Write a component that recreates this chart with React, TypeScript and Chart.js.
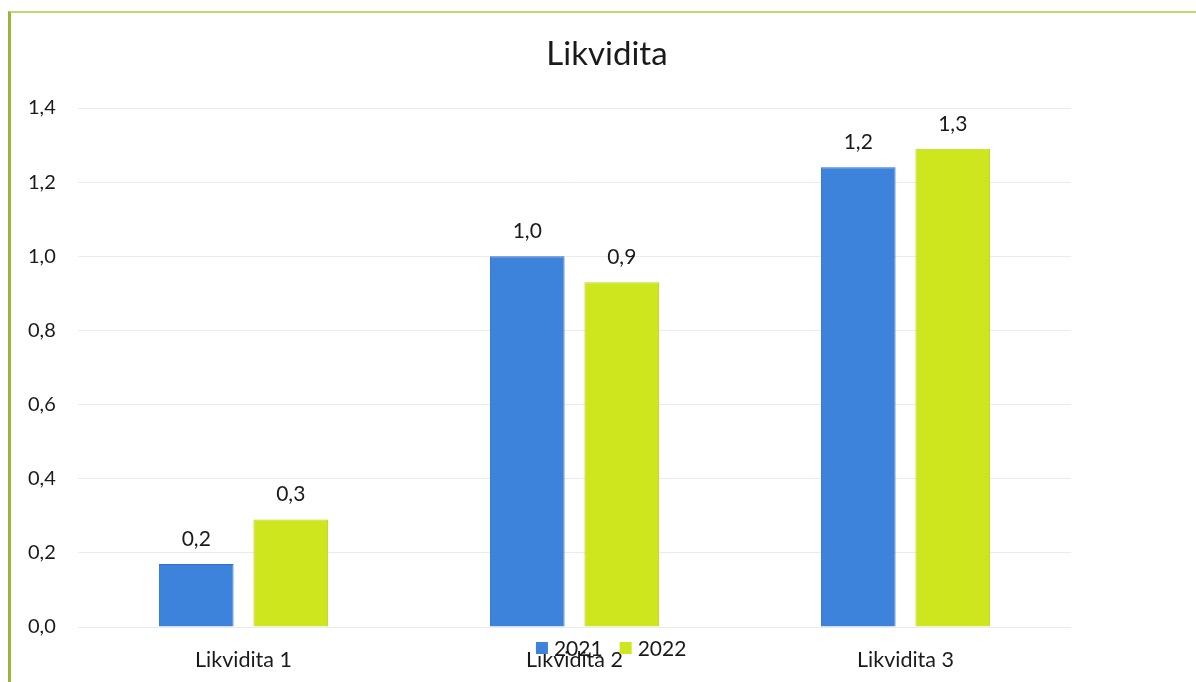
import React, { useEffect, useRef } from "react";
import { Chart, registerables } from "chart.js";

Chart.register(...registerables);

const categories = ["Likvidita 1", "Likvidita 2", "Likvidita 3"];
const seriesNames = ["2021", "2022"];
const values2021 = [0.17, 1.0, 1.24];
const values2022 = [0.29, 0.93, 1.29];
const seriesColors = ["#3d83dc", "#cde61e"];
const seriesBorders = ["#2e6fc6", "#bdd618"];
const titleText = "Likvidita";

const FONT = "Lato, 'Open Sans', sans-serif";

const fmt = (v: number, d: number) => v.toFixed(d).replace(".", ",");

const titlePlugin = {
  id: "customTitle",
  afterDraw(chart: any) {
    const ctx = chart.ctx;
    ctx.save();
    ctx.font = `33px ${FONT}`;
    ctx.fillStyle = "#1a1a1a";
    ctx.textAlign = "center";
    ctx.textBaseline = "alphabetic";
    ctx.fillText(titleText, chart.width * 0.5075, 65);
    ctx.restore();
  },
};

const dataLabelPlugin = {
  id: "dataLabels",
  afterDatasetsDraw(chart: any) {
    const ctx = chart.ctx;
    ctx.save();
    ctx.font = `21px ${FONT}`;
    ctx.fillStyle = "#1a1a1a";
    ctx.textAlign = "center";
    ctx.textBaseline = "middle";
    chart.data.datasets.forEach((ds: any, i: number) => {
      const meta = chart.getDatasetMeta(i);
      meta.data.forEach((bar: any, j: number) => {
        ctx.fillText(fmt(ds.data[j], 1), bar.x, bar.y - 25);
      });
    });
    ctx.restore();
  },
};

const legendPlugin = {
  id: "overlapLegend",
  afterDraw(chart: any) {
    const ctx = chart.ctx;
    ctx.save();
    ctx.font = `21px ${FONT}`;
    ctx.textBaseline = "middle";
    ctx.textAlign = "left";
    const box = 12;
    const gapBoxText = 6;
    const gapItems = 17;
    const widths = chart.data.datasets.map((ds: any) => box + gapBoxText + ctx.measureText(ds.label).width);
    const total = widths.reduce((a: number, b: number) => a + b, 0) + gapItems * (widths.length - 1);
    let x = chart.width * 0.511 - total / 2;
    const y = 648;
    chart.data.datasets.forEach((ds: any, i: number) => {
      ctx.fillStyle = ds.backgroundColor;
      ctx.fillRect(x, y - box / 2, box, box);
      ctx.fillStyle = "#1a1a1a";
      ctx.fillText(ds.label, x + box + gapBoxText, y + 1);
      x += widths[i] + gapItems;
    });
    ctx.restore();
  },
};

export default function App() {
  const canvasRef = useRef<HTMLCanvasElement | null>(null);

  useEffect(() => {
    document.body.style.margin = "0";
    const canvas = canvasRef.current;
    if (!canvas) return;
    const chart = new Chart(canvas, {
      type: "bar",
      data: {
        labels: categories,
        datasets: [
          {
            label: seriesNames[0],
            data: values2021,
            backgroundColor: seriesColors[0],
            borderColor: seriesBorders[0],
            borderWidth: 1,
            categoryPercentage: 0.571,
            barPercentage: 0.79,
          },
          {
            label: seriesNames[1],
            data: values2022,
            backgroundColor: seriesColors[1],
            borderColor: seriesBorders[1],
            borderWidth: 1,
            categoryPercentage: 0.571,
            barPercentage: 0.79,
          },
        ],
      },
      options: {
        responsive: false,
        animation: false,
        layout: { padding: { left: 28, right: 125, top: 108, bottom: 0 } },
        plugins: {
          legend: { display: false },
          tooltip: { enabled: false },
          title: { display: false },
        },
        scales: {
          x: {
            grid: { display: false },
            border: { display: false },
            ticks: {
              color: "#1a1a1a",
              font: { family: FONT, size: 21.5 },
              padding: 12,
            },
            afterFit(scale: any) {
              scale.height = 55;
            },
          },
          y: {
            min: 0,
            max: 1.4,
            grid: { color: "#ebebeb", lineWidth: 1, drawTicks: false },
            border: { display: false },
            ticks: {
              stepSize: 0.2,
              color: "#1a1a1a",
              font: { family: FONT, size: 20 },
              crossAlign: "far",
              padding: 10,
              callback: (v: any) => fmt(Number(v), 1),
            },
            afterFit(scale: any) {
              scale.width = 50;
            },
          },
        },
      } as any,
      plugins: [dataLabelPlugin, legendPlugin, titlePlugin],
    });
    return () => chart.destroy();
  }, []);

  return (
    <div style={{ position: "relative", width: 1196, height: 682, background: "#fff", overflow: "hidden" }}>
      <canvas ref={canvasRef} width={1196} height={682} style={{ position: "absolute", left: 0, top: 0 }} />
      <div
        style={{
          position: "absolute",
          left: 8,
          top: 11,
          width: 1200,
          height: 700,
          borderLeft: "3px solid #97b53c",
          borderTop: "2px solid #c3d56e",
          pointerEvents: "none",
        }}
      />
    </div>
  );
}
